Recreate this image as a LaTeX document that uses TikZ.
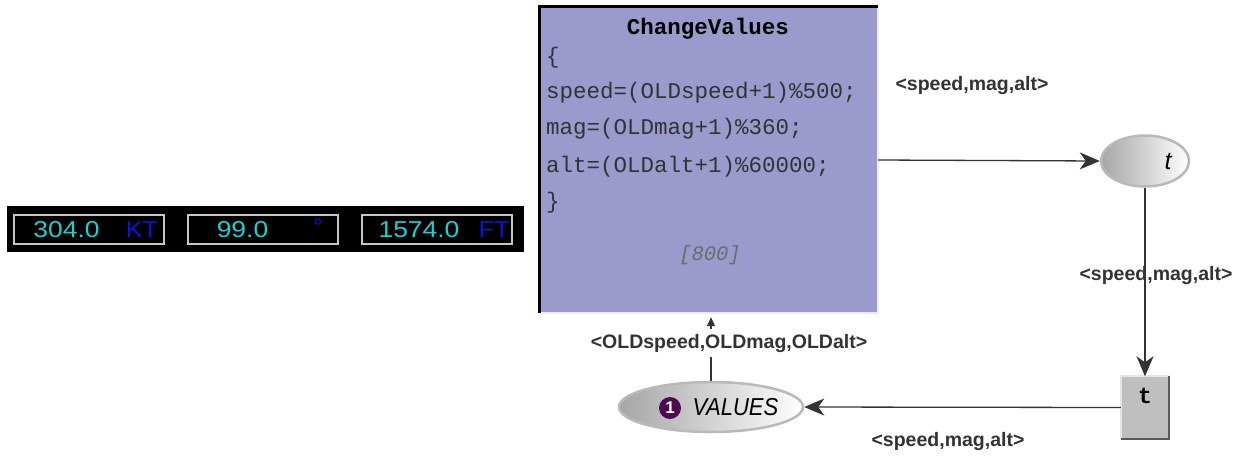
\documentclass[tikz,border=0pt]{standalone}
\usepackage{fontspec}
\setmainfont{Liberation Sans}
\newfontfamily\monofnt{Liberation Mono}
\usetikzlibrary{arrows.meta,shapes.geometric,calc}
\definecolor{lav}{HTML}{9A9ACC}
\definecolor{ink}{HTML}{333333}
\definecolor{lcd}{HTML}{19D2D2}
\definecolor{lcdunit}{HTML}{1010D8}
\definecolor{tok}{HTML}{4E0A50}
\tikzset{
  arc/.style={draw=ink, line width=1.3pt, -{Stealth[length=20pt,width=17pt,inset=6pt]}},
  lbl/.style={font=\fontsize{19.5}{21}\selectfont\bfseries, text=ink},
  code/.style={font=\monofnt\fontsize{22.5}{24}\selectfont, text=ink, anchor=west, inner sep=0pt},
  place/.style={ellipse, draw=gray!55, line width=2.5pt, left color=gray!70, right color=white, inner sep=0pt},
  lcdbox/.style={draw=gray!45, line width=1.6pt, minimum width=150pt, minimum height=29pt, inner sep=0pt},
  digits/.style={font=\fontsize{23}{24}\selectfont, text=lcd, inner sep=0pt, xscale=1.15},
  unit/.style={font=\fontsize{23}{24}\selectfont, text=lcdunit, inner sep=0pt, xscale=1.1},
}
\begin{document}
\begin{tikzpicture}[x=1pt,y=-1pt]
\useasboundingbox (0,0) rectangle (1243,459);
% instrument panel
\fill[black] (7,206) rectangle (524,252);
\node[lcdbox] (b1) at (89,229.5) {};
\node[lcdbox] (b2) at (263,229.5) {};
\node[lcdbox] (b3) at (437,229.5) {};
\node[digits] (d1) at (66.5,230) {304.0};
\node[unit] (u1) at (142,230) {KT};
\node[digits] (d2) at (242.5,230) {99.0};
\node[unit, font=\fontsize{22}{24}\selectfont] (u2) at (318,227) {°};
\node[digits] (d3) at (419,230) {1574.0};
\node[unit] (u3) at (494,230) {FT};
% transition ChangeValues
\node[rectangle, fill=lav, minimum width=338pt, minimum height=306pt, inner sep=0pt] (cv) at (709,160) {};
\draw[white!85!gray, line width=2pt] (cv.north east) -- (cv.south east) -- (cv.south west);
\draw[black, line width=3pt] (cv.south west) -- (cv.north west) -- (cv.north east);
\node[font=\monofnt\bfseries\fontsize{22.5}{24}\selectfont, text=black] (title) at (708,29) {ChangeValues};
\node[code] (c1) at (546,58) {\{};
\node[code] (c2) at (546,93) {speed=(OLDspeed+1)\%500;};
\node[code] (c3) at (546,129) {mag=(OLDmag+1)\%360;};
\node[code] (c4) at (546,167) {alt=(OLDalt+1)\%60000;};
\node[code] (c5) at (546,203) {\}};
\node[font=\monofnt\itshape\fontsize{20.5}{22}\selectfont, text=gray!85!black] (delay) at (710,255) {[800]};
% place t
\node[place, minimum width=88pt, minimum height=51pt] (pt) at (1145,161) {};
\node[font=\itshape\fontsize{25}{26}\selectfont, text=black] (ptl) at (1168,162) {t};
% transition t
\node[rectangle, fill=gray!50, minimum width=48pt, minimum height=62pt, inner sep=0pt] (tt) at (1145,407.5) {};
\draw[white!80!gray, line width=2pt] (tt.south west) -- (tt.north west) -- (tt.north east);
\draw[gray!70!black, line width=2pt] (tt.north east) -- (tt.south east) -- (tt.south west);
\node[font=\monofnt\bfseries\fontsize{23}{24}\selectfont] (ttl) at (1145,396) {t};
% place VALUES
\node[place, minimum width=184pt, minimum height=50pt] (val) at (711,407) {};
\node[circle, fill=tok, minimum size=22pt, inner sep=0pt, text=white, font=\bfseries\fontsize{17}{18}\selectfont] (tokn) at (670,408) {1};
\node[font=\itshape\fontsize{24.5}{26}\selectfont, text=black, xscale=0.9] (vall) at (735.5,407) {VALUES};
% arcs
\draw[arc] (cv.east) -- (pt.west);
\node[lbl] (l1) at (972,85) {<speed,mag,alt>};
\draw[arc] (pt.south) -- (tt.north);
\node[lbl] (l2) at (1156,275) {<speed,mag,alt>};
\draw[arc] (tt.west) -- (val.east);
\node[lbl] (l3) at (948,441) {<speed,mag,alt>};
\draw[draw=ink, line width=1.2pt, -{Triangle[length=9pt,width=8pt]}] (val.north) -- ($(cv.south)+(2,4)$);
\node[lbl, fill=white, inner sep=3pt, minimum height=28pt] (l4) at (729,343) {<OLDspeed,OLDmag,OLDalt>};
\end{tikzpicture}
\end{document}
